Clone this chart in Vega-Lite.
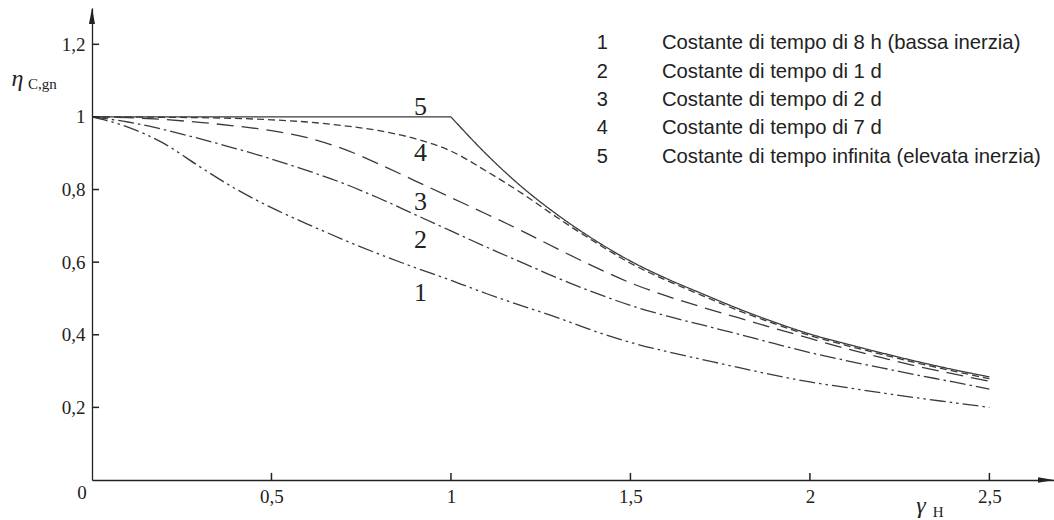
{
  "$schema": "https://vega.github.io/schema/vega-lite/v6.json",
  "width": 962,
  "height": 472,
  "autosize": "none",
  "padding": {"left": 92, "top": 8, "right": 0, "bottom": 40},
  "background": "white",
  "config": {"view": {"stroke": null}},
  "datasets": {
    "curves": [
      {"curve": "1", "s": "1", "x": 0, "y": 1}, {"curve": "1", "s": "1", "x": 0.1, "y": 0.972}, {"curve": "1", "s": "1", "x": 0.2, "y": 0.927}, {"curve": "1", "s": "1", "x": 0.3, "y": 0.863}, {"curve": "1", "s": "1", "x": 0.4, "y": 0.802}, {"curve": "1", "s": "1", "x": 0.5, "y": 0.75}, {"curve": "1", "s": "1", "x": 0.6, "y": 0.705}, {"curve": "1", "s": "1", "x": 0.7, "y": 0.662}, {"curve": "1", "s": "1", "x": 0.8, "y": 0.622}, {"curve": "1", "s": "1", "x": 0.9, "y": 0.585}, {"curve": "1", "s": "1", "x": 1.0, "y": 0.55}, {"curve": "1", "s": "1", "x": 1.1, "y": 0.513}, {"curve": "1", "s": "1", "x": 1.2, "y": 0.479}, {"curve": "1", "s": "1", "x": 1.3, "y": 0.446}, {"curve": "1", "s": "1", "x": 1.4, "y": 0.41}, {"curve": "1", "s": "1", "x": 1.5, "y": 0.379}, {"curve": "1", "s": "1", "x": 1.6, "y": 0.354}, {"curve": "1", "s": "1", "x": 1.7, "y": 0.332}, {"curve": "1", "s": "1", "x": 1.8, "y": 0.31}, {"curve": "1", "s": "1", "x": 1.9, "y": 0.289}, {"curve": "1", "s": "1", "x": 2.0, "y": 0.27}, {"curve": "1", "s": "1", "x": 2.1, "y": 0.255}, {"curve": "1", "s": "1", "x": 2.2, "y": 0.24}, {"curve": "1", "s": "1", "x": 2.3, "y": 0.226}, {"curve": "1", "s": "1", "x": 2.4, "y": 0.213}, {"curve": "1", "s": "1", "x": 2.5, "y": 0.2},
      {"curve": "2", "s": "2", "x": 0, "y": 1}, {"curve": "2", "s": "2", "x": 0.1, "y": 0.986}, {"curve": "2", "s": "2", "x": 0.2, "y": 0.965}, {"curve": "2", "s": "2", "x": 0.3, "y": 0.94}, {"curve": "2", "s": "2", "x": 0.4, "y": 0.913}, {"curve": "2", "s": "2", "x": 0.5, "y": 0.884}, {"curve": "2", "s": "2", "x": 0.6, "y": 0.852}, {"curve": "2", "s": "2", "x": 0.7, "y": 0.817}, {"curve": "2", "s": "2", "x": 0.8, "y": 0.776}, {"curve": "2", "s": "2", "x": 0.9, "y": 0.731}, {"curve": "2", "s": "2", "x": 1.0, "y": 0.686}, {"curve": "2", "s": "2", "x": 1.1, "y": 0.641}, {"curve": "2", "s": "2", "x": 1.2, "y": 0.598}, {"curve": "2", "s": "2", "x": 1.3, "y": 0.555}, {"curve": "2", "s": "2", "x": 1.4, "y": 0.516}, {"curve": "2", "s": "2", "x": 1.5, "y": 0.481}, {"curve": "2", "s": "2", "x": 1.6, "y": 0.452}, {"curve": "2", "s": "2", "x": 1.7, "y": 0.427}, {"curve": "2", "s": "2", "x": 1.8, "y": 0.402}, {"curve": "2", "s": "2", "x": 1.9, "y": 0.376}, {"curve": "2", "s": "2", "x": 2.0, "y": 0.351}, {"curve": "2", "s": "2", "x": 2.1, "y": 0.329}, {"curve": "2", "s": "2", "x": 2.2, "y": 0.309}, {"curve": "2", "s": "2", "x": 2.3, "y": 0.289}, {"curve": "2", "s": "2", "x": 2.4, "y": 0.27}, {"curve": "2", "s": "2", "x": 2.5, "y": 0.25},
      {"curve": "3", "s": "3", "x": 0, "y": 1}, {"curve": "3", "s": "3", "x": 0.1, "y": 0.998}, {"curve": "3", "s": "3", "x": 0.2, "y": 0.993}, {"curve": "3", "s": "3", "x": 0.3, "y": 0.985}, {"curve": "3", "s": "3", "x": 0.4, "y": 0.975}, {"curve": "3", "s": "3", "x": 0.5, "y": 0.962}, {"curve": "3", "s": "3", "x": 0.6, "y": 0.943}, {"curve": "3", "s": "3", "x": 0.7, "y": 0.912}, {"curve": "3", "s": "3", "x": 0.8, "y": 0.87}, {"curve": "3", "s": "3", "x": 0.9, "y": 0.824}, {"curve": "3", "s": "3", "x": 1.0, "y": 0.778}, {"curve": "3", "s": "3", "x": 1.1, "y": 0.732}, {"curve": "3", "s": "3", "x": 1.2, "y": 0.685}, {"curve": "3", "s": "3", "x": 1.3, "y": 0.635}, {"curve": "3", "s": "3", "x": 1.4, "y": 0.587}, {"curve": "3", "s": "3", "x": 1.5, "y": 0.543}, {"curve": "3", "s": "3", "x": 1.6, "y": 0.507}, {"curve": "3", "s": "3", "x": 1.7, "y": 0.476}, {"curve": "3", "s": "3", "x": 1.8, "y": 0.447}, {"curve": "3", "s": "3", "x": 1.9, "y": 0.418}, {"curve": "3", "s": "3", "x": 2.0, "y": 0.39}, {"curve": "3", "s": "3", "x": 2.1, "y": 0.362}, {"curve": "3", "s": "3", "x": 2.2, "y": 0.337}, {"curve": "3", "s": "3", "x": 2.3, "y": 0.313}, {"curve": "3", "s": "3", "x": 2.4, "y": 0.292}, {"curve": "3", "s": "3", "x": 2.5, "y": 0.272},
      {"curve": "4", "s": "4", "x": 0, "y": 1}, {"curve": "4", "s": "4", "x": 0.2, "y": 0.999}, {"curve": "4", "s": "4", "x": 0.4, "y": 0.996}, {"curve": "4", "s": "4", "x": 0.5, "y": 0.992}, {"curve": "4", "s": "4", "x": 0.6, "y": 0.986}, {"curve": "4", "s": "4", "x": 0.7, "y": 0.976}, {"curve": "4", "s": "4", "x": 0.8, "y": 0.962}, {"curve": "4", "s": "4", "x": 0.9, "y": 0.94}, {"curve": "4", "s": "4", "x": 1.0, "y": 0.906}, {"curve": "4", "s": "4", "x": 1.1, "y": 0.85}, {"curve": "4", "s": "4", "x": 1.2, "y": 0.788}, {"curve": "4", "s": "4", "x": 1.3, "y": 0.72}, {"curve": "4", "s": "4", "x": 1.4, "y": 0.656}, {"curve": "4", "s": "4", "x": 1.5, "y": 0.597}, {"curve": "4", "s": "4", "x": 1.6, "y": 0.55}, {"curve": "4", "s": "4", "x": 1.7, "y": 0.508}, {"curve": "4", "s": "4", "x": 1.8, "y": 0.467}, {"curve": "4", "s": "4", "x": 1.9, "y": 0.431}, {"curve": "4", "s": "4", "x": 2.0, "y": 0.398}, {"curve": "4", "s": "4", "x": 2.1, "y": 0.371}, {"curve": "4", "s": "4", "x": 2.2, "y": 0.346}, {"curve": "4", "s": "4", "x": 2.3, "y": 0.322}, {"curve": "4", "s": "4", "x": 2.4, "y": 0.3}, {"curve": "4", "s": "4", "x": 2.5, "y": 0.279},
      {"curve": "5", "s": "5a", "x": 0, "y": 1}, {"curve": "5", "s": "5a", "x": 1.0, "y": 1},
      {"curve": "5", "s": "5b", "x": 1.0, "y": 1}, {"curve": "5", "s": "5b", "x": 1.1, "y": 0.896}, {"curve": "5", "s": "5b", "x": 1.2, "y": 0.805}, {"curve": "5", "s": "5b", "x": 1.3, "y": 0.728}, {"curve": "5", "s": "5b", "x": 1.4, "y": 0.661}, {"curve": "5", "s": "5b", "x": 1.5, "y": 0.603}, {"curve": "5", "s": "5b", "x": 1.6, "y": 0.555}, {"curve": "5", "s": "5b", "x": 1.7, "y": 0.513}, {"curve": "5", "s": "5b", "x": 1.8, "y": 0.472}, {"curve": "5", "s": "5b", "x": 1.9, "y": 0.435}, {"curve": "5", "s": "5b", "x": 2.0, "y": 0.402}, {"curve": "5", "s": "5b", "x": 2.1, "y": 0.375}, {"curve": "5", "s": "5b", "x": 2.2, "y": 0.35}, {"curve": "5", "s": "5b", "x": 2.3, "y": 0.326}, {"curve": "5", "s": "5b", "x": 2.4, "y": 0.304}, {"curve": "5", "s": "5b", "x": 2.5, "y": 0.284}
    ],
    "xTicks": [{"x": 0.5}, {"x": 1}, {"x": 1.5}, {"x": 2}, {"x": 2.5}],
    "yTicks": [{"y": 0.2}, {"y": 0.4}, {"y": 0.6}, {"y": 0.8}, {"y": 1}, {"y": 1.2}],
    "curveLabels": [
      {"x": 0.915, "y": 1.028, "text": "5"},
      {"x": 0.915, "y": 0.9, "text": "4"},
      {"x": 0.915, "y": 0.767, "text": "3"},
      {"x": 0.915, "y": 0.661, "text": "2"},
      {"x": 0.915, "y": 0.515, "text": "1"}
    ],
    "legendNums": [
      {"x": 1.4215, "y": 1.2025, "text": "1"},
      {"x": 1.4215, "y": 1.1245, "text": "2"},
      {"x": 1.4215, "y": 1.0468, "text": "3"},
      {"x": 1.4215, "y": 0.9683, "text": "4"},
      {"x": 1.4215, "y": 0.8898, "text": "5"}
    ],
    "legendText": [
      {"x": 1.5877, "y": 1.2025, "text": "Costante di tempo di 8 h (bassa inerzia)"},
      {"x": 1.5877, "y": 1.1245, "text": "Costante di tempo di 1 d"},
      {"x": 1.5877, "y": 1.0468, "text": "Costante di tempo di 2 d"},
      {"x": 1.5877, "y": 0.9683, "text": "Costante di tempo di 7 d"},
      {"x": 1.5877, "y": 0.8898, "text": "Costante di tempo infinita (elevata inerzia)"}
    ],
    "mainSymbols": [
      {"x": -0.224, "y": 1.104, "text": "η"},
      {"x": 2.296, "y": -0.0716, "text": "γ"}
    ],
    "subSymbols": [
      {"x": -0.178, "y": 1.09, "text": "C,gn"},
      {"x": 2.342, "y": -0.089, "text": "H"}
    ],
    "origin": [{"x": -0.028, "y": -0.036, "text": "0"}],
    "arrowY": [{"x": 0, "y": 1.256}],
    "arrowX": [{"x": 2.6354, "y": 0}]
  },
  "layer": [
    {
      "data": {"name": "curves"},
      "mark": {"type": "line", "strokeWidth": 1.3, "color": "#3a3a3a", "interpolate": "monotone"},
      "encoding": {
        "x": {"field": "x", "type": "quantitative",
          "scale": {"domain": [0, 2.68], "nice": false, "zero": false},
          "axis": {"values": [0.5, 1, 1.5, 2, 2.5], "title": null, "grid": false, "ticks": false,
            "labelExpr": "replace(format(datum.value, '~g'), '.', ',')",
            "labelFont": "Liberation Serif", "labelFontSize": 19, "labelColor": "#222",
            "labelPadding": 7,
            "domainColor": "#222", "domainWidth": 1.3, "labelFlush": false}},
        "y": {"field": "y", "type": "quantitative",
          "scale": {"domain": [0, 1.3], "nice": false, "zero": false},
          "axis": {"values": [0.2, 0.4, 0.6, 0.8, 1, 1.2], "title": null, "grid": false, "ticks": false,
            "labelExpr": "replace(format(datum.value, '~g'), '.', ',')",
            "labelFont": "Liberation Serif", "labelFontSize": 19, "labelColor": "#222",
            "labelPadding": 7,
            "domainColor": "#222", "domainWidth": 1.3, "labelFlush": false}},
        "detail": {"field": "s"},
        "strokeDash": {"field": "curve", "type": "nominal", "legend": null,
          "scale": {"domain": ["1", "2", "3", "4", "5"],
            "range": [[16, 4, 2.5, 4, 2.5, 4], [16, 4, 2.5, 4], [17, 8], [7, 4], [1, 0]]}}
      }
    },
    {
      "data": {"name": "xTicks"},
      "mark": {"type": "rule", "strokeWidth": 1.5, "color": "#222"},
      "encoding": {
        "x": {"field": "x", "type": "quantitative"},
        "y": {"datum": 0, "type": "quantitative"},
        "y2": {"datum": 0.0195}
      }
    },
    {
      "data": {"name": "yTicks"},
      "mark": {"type": "rule", "strokeWidth": 1.5, "color": "#222"},
      "encoding": {
        "y": {"field": "y", "type": "quantitative"},
        "x": {"datum": 0, "type": "quantitative"},
        "x2": {"datum": 0.0197}
      }
    },
    {
      "data": {"name": "curveLabels"},
      "mark": {"type": "text", "font": "Liberation Serif", "fontSize": 26, "color": "#222", "align": "center", "baseline": "middle"},
      "encoding": {
        "x": {"field": "x", "type": "quantitative"},
        "y": {"field": "y", "type": "quantitative"},
        "text": {"field": "text"}
      }
    },
    {
      "data": {"name": "legendNums"},
      "mark": {"type": "text", "font": "Liberation Sans", "fontSize": 20, "color": "#222", "align": "center", "baseline": "middle"},
      "encoding": {
        "x": {"field": "x", "type": "quantitative"},
        "y": {"field": "y", "type": "quantitative"},
        "text": {"field": "text"}
      }
    },
    {
      "data": {"name": "legendText"},
      "mark": {"type": "text", "font": "Liberation Sans", "fontSize": 20.3, "color": "#222", "align": "left", "baseline": "middle"},
      "encoding": {
        "x": {"field": "x", "type": "quantitative"},
        "y": {"field": "y", "type": "quantitative"},
        "text": {"field": "text"}
      }
    },
    {
      "data": {"name": "mainSymbols"},
      "mark": {"type": "text", "font": "Liberation Serif", "fontSize": 24, "fontStyle": "italic", "color": "#222", "align": "left", "baseline": "middle"},
      "encoding": {
        "x": {"field": "x", "type": "quantitative"},
        "y": {"field": "y", "type": "quantitative"},
        "text": {"field": "text"}
      }
    },
    {
      "data": {"name": "subSymbols"},
      "mark": {"type": "text", "font": "Liberation Serif", "fontSize": 15, "color": "#222", "align": "left", "baseline": "middle"},
      "encoding": {
        "x": {"field": "x", "type": "quantitative"},
        "y": {"field": "y", "type": "quantitative"},
        "text": {"field": "text"}
      }
    },
    {
      "data": {"name": "origin"},
      "mark": {"type": "text", "font": "Liberation Serif", "fontSize": 19, "color": "#222", "align": "center", "baseline": "middle"},
      "encoding": {
        "x": {"field": "x", "type": "quantitative"},
        "y": {"field": "y", "type": "quantitative"},
        "text": {"field": "text"}
      }
    },
    {
      "data": {"name": "arrowY"},
      "mark": {"type": "point", "shape": "M0,-1L0.19,0L-0.19,0Z", "size": 1024, "filled": true, "color": "#222", "opacity": 1},
      "encoding": {
        "x": {"field": "x", "type": "quantitative"},
        "y": {"field": "y", "type": "quantitative"}
      }
    },
    {
      "data": {"name": "arrowX"},
      "mark": {"type": "point", "shape": "M1,0L0,0.17L0,-0.17Z", "size": 1024, "filled": true, "color": "#222", "opacity": 1},
      "encoding": {
        "x": {"field": "x", "type": "quantitative"},
        "y": {"field": "y", "type": "quantitative"}
      }
    }
  ]
}
